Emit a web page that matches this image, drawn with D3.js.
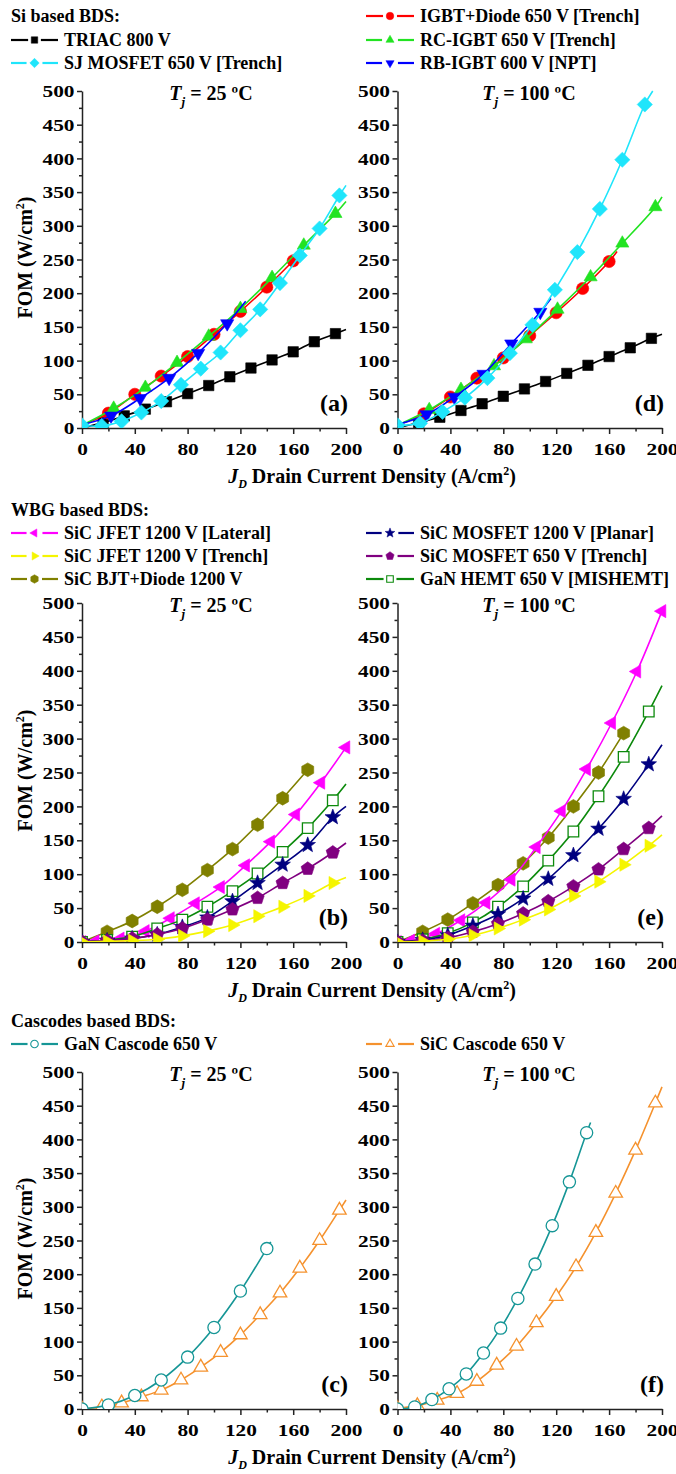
<!DOCTYPE html>
<html>
<head>
<meta charset="utf-8">
<script src="https://cdn.jsdelivr.net/npm/d3@7"></script>
<style>
  body { margin: 0; background: #fff; }
  svg text { font-family: 'Liberation Serif', 'Times New Roman', Times, serif; font-weight: bold; white-space: pre; }
</style>
</head>
<body>
<svg id="fig" width="676" height="1474"></svg>
<script>
// ---------------- axis ticks ----------------
const xTickVals = [0, 40, 80, 120, 160, 200];
const yTickVals = [0, 50, 100, 150, 200, 250, 300, 350, 400, 450, 500];

// ---------------- Si based BDS (FOM, W/cm2) ----------------
const triacX   = [0, 16, 32, 48, 64, 80, 96, 112, 128, 144, 160, 176, 192, 200];
const triac25  = [0, 8, 18, 28, 39, 51, 63, 76, 89, 101, 113, 128, 140, 146];
const triac100 = [0, 8, 16, 26, 36, 47, 58, 69, 81, 93, 106, 119, 133, 139];

const igbtX25  = [0, 20, 40, 60, 80, 100, 120, 140, 160, 165];
const igbt25   = [4, 22, 50, 77, 106, 139, 173, 209, 248, 258];
const igbtX100 = [0, 20, 40, 60, 80, 100, 120, 140, 160, 166];
const igbt100  = [4, 21, 46, 74, 104, 137, 171, 207, 247, 262];

const rcX25  = [0, 24, 48, 72, 96, 120, 144, 168, 192, 200];
const rc25   = [4, 29, 60, 97, 136, 177, 223, 271, 318, 336];
const rcX100 = [0, 24, 48, 73, 97, 121, 146, 170, 195, 200];
const rc100  = [4, 27, 57, 92, 132, 176, 224, 274, 328, 343];

const rbX25  = [0, 22, 44, 66, 88, 110, 124];
const rb25   = [5, 18, 44, 74, 111, 155, 188];
const rbX100 = [0, 22, 43, 65, 86, 108, 116];
const rb100  = [5, 20, 46, 80, 125, 172, 192];

const sjX25  = [0, 15, 30, 45, 60, 75, 90, 105, 120, 135, 150, 165, 180, 195, 200];
const sj25   = [4, 3, 10, 23, 40, 64, 88, 112, 145, 176, 215, 256, 296, 345, 360];
const sjX100 = [0, 17, 34, 51, 68, 85, 102, 119, 136, 153, 170, 187, 193];
const sj100  = [4, 7, 24, 45, 74, 111, 153, 205, 261, 325, 398, 480, 500];

// ---------------- WBG based BDS ----------------
const wbgX     = [0, 19, 38, 57, 76, 95, 114, 133, 152, 171, 190, 200];
const jfetLatX = [0, 10, 29, 48, 67, 86, 105, 124, 143, 162, 181, 200];
const bjtX     = [0, 19, 38, 57, 76, 95, 114, 133, 152, 171];

const jfetLat25 = [0, 1, 5, 16, 35, 57, 81, 113, 148, 188, 235, 287];
const jfetTr25  = [0, 1, 2, 4, 9, 16, 25, 38, 52, 68, 87, 95];
const bjt25     = [0, 15, 31, 52, 77, 106, 137, 173, 212, 254];
const mosPl25   = [0, 2, 5, 11, 22, 36, 60, 87, 114, 143, 184, 200];
const mosTr25   = [0, 2, 5, 11, 20, 33, 48, 65, 87, 108, 132, 146];
const gan25     = [0, 3, 8, 20, 33, 52, 75, 101, 133, 168, 209, 233];

const jfetLat100 = [0, 2, 12, 32, 58, 92, 140, 193, 255, 323, 399, 488];
const jfetTr100  = [0, 1, 4, 10, 20, 33, 48, 68, 89, 114, 142, 158];
const bjt100     = [0, 15, 33, 57, 84, 116, 154, 200, 250, 308];
const mosPl100   = [0, 3, 10, 24, 41, 64, 93, 128, 167, 211, 262, 291];
const mosTr100   = [0, 2, 6, 15, 27, 42, 60, 82, 107, 137, 168, 186];
const gan100     = [0, 4, 13, 29, 52, 82, 120, 163, 215, 273, 340, 378];

// ---------------- Cascodes based BDS ----------------
const ganCasX25  = [0, 20, 40, 60, 80, 100, 120, 140, 143];
const ganCas25   = [0, 6, 20, 43, 77, 121, 175, 238, 248];
const ganCasX100 = [0, 13, 26, 39, 52, 65, 78, 91, 104, 117, 130, 143, 146];
const ganCas100  = [0, 3, 14, 30, 52, 83, 120, 164, 215, 272, 337, 410, 425];
const sicCasX    = [0, 15, 30, 45, 60, 75, 90, 105, 120, 135, 150, 165, 180, 195, 200];
const sicCas25   = [0, 3, 9, 18, 28, 43, 62, 84, 110, 140, 172, 209, 250, 295, 310];
const sicCas100  = [1, 5, 13, 23, 41, 65, 93, 128, 167, 211, 262, 320, 384, 454, 478];

// ---------------- device styles ----------------
const STYLE = {
  triac:  { label: "TRIAC 800 V",                 color: "#000000", shape: "square",   r: 5.2 },
  igbt:   { label: "IGBT+Diode 650 V [Trench]",   color: "#ff0000", shape: "circle",   r: 6.1 },
  rc:     { label: "RC-IGBT 650 V [Trench]",      color: "#22e322", shape: "triUp",    r: 7.6 },
  sj:     { label: "SJ MOSFET 650 V [Trench]",    color: "#1fe5fb", shape: "diamond",  r: 7.6 },
  rb:     { label: "RB-IGBT 600 V [NPT]",         color: "#0000ff", shape: "triDown",  r: 7.6 },
  jLat:   { label: "SiC JFET 1200 V [Lateral]",   color: "#ff00ff", shape: "triLeft",  r: 7.6 },
  jTr:    { label: "SiC JFET 1200 V [Trench]",    color: "#f5f500", shape: "triRight", r: 7.6 },
  bjt:    { label: "SiC BJT+Diode 1200 V",        color: "#808000", shape: "hexagon",  r: 6.9 },
  mPl:    { label: "SiC MOSFET 1200 V [Planar]",  color: "#000080", shape: "star",     r: 8.2 },
  mTr:    { label: "SiC MOSFET 650 V [Trench]",   color: "#800080", shape: "pentagon", r: 7 },
  gan:    { label: "GaN HEMT 650 V [MISHEMT]",    color: "#0c8a0c", shape: "square",   r: 5.3, open: true },
  ganCas: { label: "GaN Cascode 650 V",           color: "#169696", shape: "circle",   r: 6.1, open: true },
  sicCas: { label: "SiC Cascode 650 V",           color: "#f5922e", shape: "triUp",    r: 7.8, open: true }
};

// ---------------- layout ----------------
const svg = d3.select("#fig");
const COLS = [{ x0: 82, x1: 346, tx: 211 }, { x0: 397.5, x1: 662, tx: 529 }];
const ROWS = [{ top: 91, base: 428 }, { top: 603, base: 942 }, { top: 1072, base: 1409 }];
const AXIS_COLOR = "#222";

function shapePath(shape, r) {
  const p = d3.path();
  const poly = (n, rot, rad) => {
    for (let i = 0; i < n; i++) {
      const a = rot + i * 2 * Math.PI / n;
      const px = rad * Math.cos(a), py = rad * Math.sin(a);
      if (i === 0) p.moveTo(px, py); else p.lineTo(px, py);
    }
    p.closePath();
  };
  switch (shape) {
    case "square": p.rect(-r, -r, 2 * r, 2 * r); break;
    case "circle": p.moveTo(r, 0); p.arc(0, 0, r, 0, 2 * Math.PI); break;
    case "diamond": poly(4, -Math.PI / 2, r); break;
    case "triUp": poly(3, -Math.PI / 2, r); break;
    case "triDown": poly(3, Math.PI / 2, r); break;
    case "triLeft": poly(3, Math.PI, r); break;
    case "triRight": poly(3, 0, r); break;
    case "hexagon": poly(6, -Math.PI / 2, r); break;
    case "pentagon": poly(5, -Math.PI / 2, r); break;
    case "star":
      for (let i = 0; i < 10; i++) {
        const a = -Math.PI / 2 + i * Math.PI / 5;
        const rad = i % 2 === 0 ? r : r * 0.42;
        const px = rad * Math.cos(a), py = rad * Math.sin(a);
        if (i === 0) p.moveTo(px, py); else p.lineTo(px, py);
      }
      p.closePath();
      break;
  }
  return p.toString();
}

function stretch(sel, k) {
  sel.each(function () {
    const L = this.getComputedTextLength();
    if (L > 0) d3.select(this).attr("textLength", L * k).attr("lengthAdjust", "spacingAndGlyphs");
  });
}

function panel(col, row, series, temp, tag, withYTitle) {
  const c = COLS[col], r = ROWS[row];
  const x = d3.scaleLinear().domain([0, 200]).range([c.x0, c.x1]);
  const y = d3.scaleLinear().domain([0, 500]).range([r.base, r.top]);
  const g = svg.append("g");
  const clipId = "clip-" + tag;

  svg.append("clipPath").attr("id", clipId).append("rect")
    .attr("x", c.x0).attr("y", r.top - 20)
    .attr("width", c.x1 - c.x0 + 14).attr("height", r.base - r.top + 20);

  // axes
  const gx = g.append("g").attr("transform", `translate(0,${r.base})`)
    .call(d3.axisBottom(x).tickValues(d3.range(0, 201, 20)).tickSize(6).tickSizeOuter(0)
      .tickPadding(9).tickFormat(d => xTickVals.includes(d) ? d : ""));
  gx.selectAll(".tick line").attr("y2", d => xTickVals.includes(d) ? 6 : 3.5);

  const gy = g.append("g").attr("transform", `translate(${c.x0},0)`)
    .call(d3.axisLeft(y).tickValues(d3.range(0, 501, 25)).tickSize(5).tickSizeOuter(0)
      .tickPadding(2.5).tickFormat(d => yTickVals.includes(d) ? d : ""));
  gy.selectAll(".tick line").attr("x2", d => yTickVals.includes(d) ? -5 : -3);

  [gx, gy].forEach(a => {
    a.attr("font-family", null).attr("font-size", 17.5).attr("color", AXIS_COLOR);
    a.selectAll("path, line").attr("stroke-width", 1.5);
    a.selectAll("text").attr("fill", "#000");
    stretch(a.selectAll("text"), 1.22);
  });

  // series
  const plot = g.append("g").attr("clip-path", `url(#${clipId})`);
  const line = d3.line().x(d => x(d[0])).y(d => y(d[1])).curve(d3.curveCatmullRom.alpha(0.5));
  series.forEach(s => {
    const st = STYLE[s.key];
    const pts = s.x.map((v, i) => [v, s.y[i]]);
    plot.append("path").attr("d", line(pts))
      .attr("fill", "none").attr("stroke", st.color).attr("stroke-width", 1.6);
    const marked = pts.slice(s.lead ? 1 : 0, s.tail ? pts.length - 1 : pts.length);
    plot.append("g").selectAll("path").data(marked).join("path")
      .attr("transform", d => `translate(${x(d[0])},${y(d[1])})`)
      .attr("d", shapePath(st.shape, st.r))
      .attr("fill", st.open ? "#fff" : st.color)
      .attr("stroke", st.color)
      .attr("stroke-width", st.open ? 1.3 : 0.6);
  });

  // temperature title
  const t = g.append("text").attr("x", c.tx).attr("y", r.top + 9)
    .attr("text-anchor", "middle").attr("font-size", 20);
  t.append("tspan").attr("font-style", "italic").text("T");
  t.append("tspan").attr("font-style", "italic").attr("font-size", 13).attr("dy", 6).text("j");
  t.append("tspan").attr("dy", -6).text(` = ${temp} ºC`);

  // panel tag
  g.append("text").attr("x", c.x1 + 2).attr("y", r.base - 17)
    .attr("text-anchor", "end").attr("font-size", 24).text(`(${tag})`);

  if (withYTitle) {
    const yt = g.append("text")
      .attr("transform", `translate(32,${(r.top + r.base) / 2 - 2}) rotate(-90)`)
      .attr("text-anchor", "middle").attr("font-size", 20);
    yt.append("tspan").text("FOM (W/cm");
    yt.append("tspan").attr("font-size", 12).attr("dy", -8).text("2");
    yt.append("tspan").attr("dy", 8).text(")");
  }
}

function xTitle(row) {
  const r = ROWS[row];
  const t = svg.append("text").attr("x", 372).attr("y", r.base + 55)
    .attr("text-anchor", "middle").attr("font-size", 20);
  t.append("tspan").attr("font-style", "italic").text("J");
  t.append("tspan").attr("font-style", "italic").attr("font-size", 12).attr("dy", 5).text("D");
  t.append("tspan").attr("dy", -5).text(" Drain Current Density (A/cm");
  t.append("tspan").attr("font-size", 12).attr("dy", -8).text("2");
  t.append("tspan").attr("dy", 8).text(")");
}

function legendHeader(text, yb) {
  svg.append("text").attr("x", 11).attr("y", yb).attr("font-size", 18).text(text);
}

function legendItem(key, col, yb) {
  const st = STYLE[key];
  const xa = col === 0 ? 11 : 366, xb = col === 0 ? 58 : 414;
  const xm = (xa + xb) / 2, ym = yb - 6, gap = st.r * 0.65 + 3;
  const g = svg.append("g");
  g.append("line").attr("x1", xa).attr("x2", xm - gap).attr("y1", ym).attr("y2", ym)
    .attr("stroke", st.color).attr("stroke-width", 2.2);
  g.append("line").attr("x1", xm + gap).attr("x2", xb).attr("y1", ym).attr("y2", ym)
    .attr("stroke", st.color).attr("stroke-width", 2.2);
  g.append("path").attr("transform", `translate(${xm},${ym})`)
    .attr("d", shapePath(st.shape, st.r * 0.62))
    .attr("fill", st.open ? "#fff" : st.color).attr("stroke", st.color)
    .attr("stroke-width", st.open ? 1.1 : 0.5);
  g.append("text").attr("x", xb + 6).attr("y", yb).attr("font-size", 18).text(st.label);
}

// ---------------- legends ----------------
legendHeader("Si based BDS:", 22);
legendItem("triac", 0, 46);
legendItem("sj", 0, 69);
legendItem("igbt", 1, 22);
legendItem("rc", 1, 46);
legendItem("rb", 1, 69);

legendHeader("WBG based BDS:", 516);
legendItem("jLat", 0, 539);
legendItem("jTr", 0, 562);
legendItem("bjt", 0, 585);
legendItem("mPl", 1, 539);
legendItem("mTr", 1, 562);
legendItem("gan", 1, 585);

legendHeader("Cascodes based BDS:", 1027);
legendItem("ganCas", 0, 1050);
legendItem("sicCas", 1, 1050);

// ---------------- panels ----------------
panel(0, 0, [
  { key: "triac", x: triacX, y: triac25, lead: true, tail: true },
  { key: "igbt", x: igbtX25, y: igbt25, lead: true, tail: true },
  { key: "rc", x: rcX25, y: rc25, lead: true, tail: true },
  { key: "rb", x: rbX25, y: rb25, lead: true, tail: true },
  { key: "sj", x: sjX25, y: sj25, tail: true }
], 25, "a", true);

panel(1, 0, [
  { key: "triac", x: triacX, y: triac100, lead: true, tail: true },
  { key: "igbt", x: igbtX100, y: igbt100, lead: true, tail: true },
  { key: "rc", x: rcX100, y: rc100, lead: true, tail: true },
  { key: "rb", x: rbX100, y: rb100, lead: true, tail: true },
  { key: "sj", x: sjX100, y: sj100, tail: true }
], 100, "d", false);

panel(0, 1, [
  { key: "bjt", x: bjtX, y: bjt25 },
  { key: "jLat", x: jfetLatX, y: jfetLat25 },
  { key: "gan", x: wbgX, y: gan25, tail: true },
  { key: "mPl", x: wbgX, y: mosPl25, tail: true },
  { key: "mTr", x: wbgX, y: mosTr25, tail: true },
  { key: "jTr", x: wbgX, y: jfetTr25, tail: true }
], 25, "b", true);

panel(1, 1, [
  { key: "bjt", x: bjtX, y: bjt100 },
  { key: "jLat", x: jfetLatX, y: jfetLat100 },
  { key: "gan", x: wbgX, y: gan100, tail: true },
  { key: "mPl", x: wbgX, y: mosPl100, tail: true },
  { key: "mTr", x: wbgX, y: mosTr100, tail: true },
  { key: "jTr", x: wbgX, y: jfetTr100, tail: true }
], 100, "e", false);

panel(0, 2, [
  { key: "sicCas", x: sicCasX, y: sicCas25, tail: true },
  { key: "ganCas", x: ganCasX25, y: ganCas25, tail: true }
], 25, "c", true);

panel(1, 2, [
  { key: "sicCas", x: sicCasX, y: sicCas100, tail: true },
  { key: "ganCas", x: ganCasX100, y: ganCas100, tail: true }
], 100, "f", false);

xTitle(0);
xTitle(1);
xTitle(2);
</script>
</body>
</html>
